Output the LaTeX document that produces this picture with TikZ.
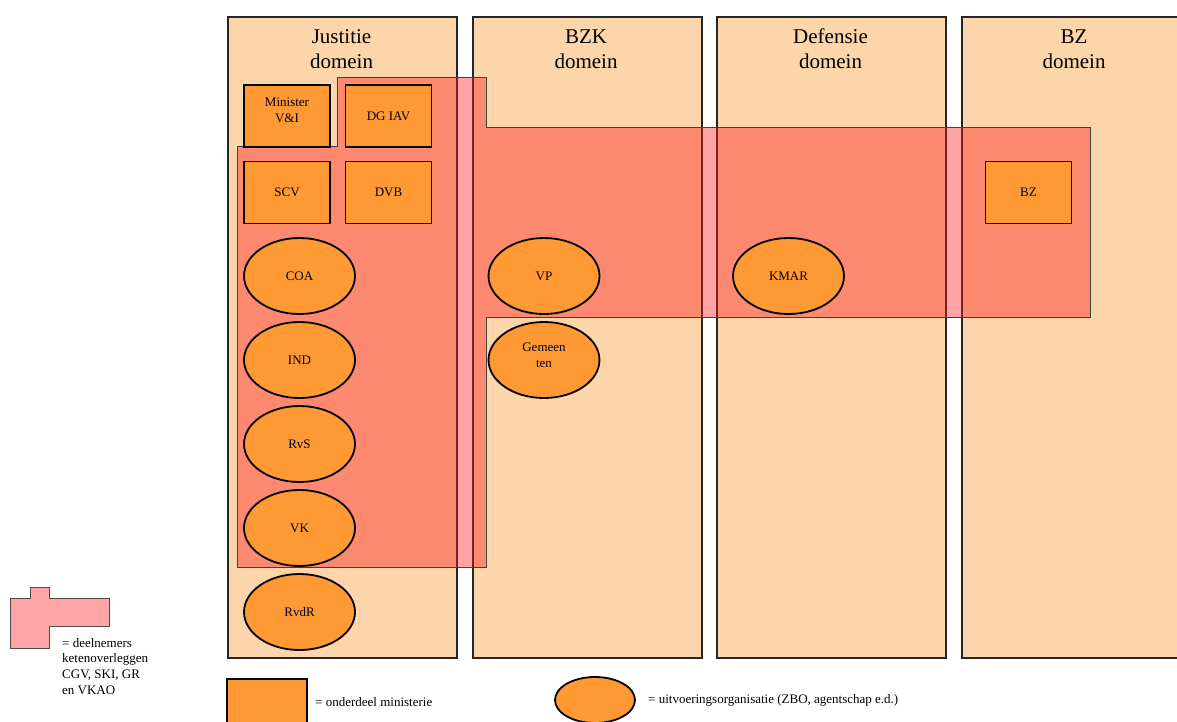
\documentclass[tikz,border=0pt]{standalone}
\usepackage{fontspec}
\setmainfont{Liberation Serif}
\usetikzlibrary{shapes.geometric}
\definecolor{domfill}{RGB}{252,213,170}
\definecolor{orgfill}{RGB}{255,153,51}
\definecolor{zonefill}{RGB}{255,27,27}
\definecolor{legpink}{RGB}{255,165,165}
% two centred lines, lifted above the centre of their shape
\newcommand{\twolines}[3]{\raisebox{#3}[0pt][0pt]{\begin{tabular}{@{}c@{}}#1\\#2\end{tabular}}}
\begin{document}
\begin{tikzpicture}[x=1pt,y=-1pt,
  domainbox/.style={rectangle,draw=black!85,line width=2pt,fill=domfill,
    anchor=north west,minimum width=229pt,minimum height=641pt,inner sep=0pt},
  domtitle/.style={font=\fontsize{21}{25}\selectfont,align=center,inner sep=0pt},
  dept/.style={rectangle,draw=black,line width=1.9pt,fill=orgfill,
    minimum width=86pt,minimum height=62pt,inner sep=0pt,
    font=\fontsize{13}{16}\selectfont,align=center},
  org/.style={ellipse,draw=black,line width=1.8pt,fill=orgfill,
    minimum width=111pt,minimum height=76pt,inner sep=0pt,
    font=\fontsize{13}{16}\selectfont,align=center},
  zone/.style={fill=zonefill,fill opacity=0.4,draw=black!75,line width=0.8pt},
  legtext/.style={font=\fontsize{13}{15.7}\selectfont,inner sep=0pt}]

\useasboundingbox (0,0) rectangle (1177,721);

% ministry domains
\node[domainbox] (djus) at (227,16) {};
\node[domainbox] (dbzk) at (472,16) {};
\node[domainbox] (ddef) at (716,16) {};
\node[domainbox] (dbz)  at (961,16) {};

\node[domtitle] (tjus) at (341.5,49) {Justitie\\domein};
\node[domtitle] (tbzk) at (586,49) {BZK\\domein};
\node[domtitle] (tdef) at (830.5,49) {Defensie\\domein};
\node[domtitle] (tbz)  at (1074,49) {BZ\\domein};

% participants in the chain consultations
\draw[zone] (337,77) -- (486,77) -- (486,127) -- (1090,127) -- (1090,317)
  -- (486,317) -- (486,567) -- (237,567) -- (237,146) -- (337,146) -- cycle;

% ministry departments
\node[dept] (min) at (287,116) {\twolines{Minister}{V\&I}{2pt}};
\node[dept] (dgiav) at (388.5,116) {DG IAV};
\node[dept] (scv) at (287,192.5) {SCV};
\node[dept] (dvb) at (388.5,192.5) {DVB};
\node[dept] (bz) at (1028.5,192.5) {BZ};

% executive organisations
\node[org] (coa) at (299.5,276) {COA};
\node[org] (ind) at (299.5,360) {IND};
\node[org] (rvs) at (299.5,444) {RvS};
\node[org] (vk) at (299.5,528) {VK};
\node[org] (rvdr) at (299.5,612) {RvdR};
\node[org] (vp) at (544,276) {VP};
\node[org] (gem) at (544,360) {\twolines{Gemeen}{ten}{1pt}};
\node[org] (kmar) at (788.5,276) {KMAR};

% legend
\draw[fill=legpink,draw=black!70,line width=0.8pt]
  (30,587) -- (49,587) -- (49,598) -- (109,598) -- (109,626) -- (49,626)
  -- (49,648) -- (10,648) -- (10,598) -- (30,598) -- cycle;
\node[legtext,anchor=north west,align=left] (legzone) at (62,638)
  {= deelnemers\\ketenoverleggen\\CGV, SKI, GR\\en VKAO};

\node[dept,minimum width=80pt,minimum height=50pt] (legdept) at (267,704) {};
\node[legtext,anchor=west] (legdepttxt) at (315,702) {= onderdeel ministerie};
\node[org,minimum width=80pt,minimum height=46pt] (legorg) at (595,700) {};
\node[legtext,anchor=west] (legorgtxt) at (648,700)
  {= uitvoeringsorganisatie (ZBO, agentschap e.d.)};
\end{tikzpicture}
\end{document}
